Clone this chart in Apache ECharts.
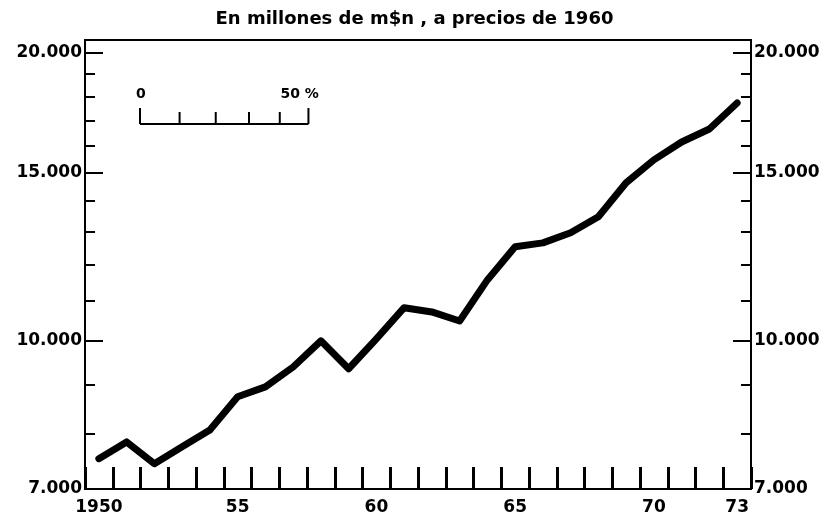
<!DOCTYPE html>
<html>
<head>
<meta charset="utf-8">
<script src="https://cdn.jsdelivr.net/npm/echarts@6/dist/echarts.min.js"></script>
<style>
  html, body { margin: 0; padding: 0; background: #fff; }
  #main { width: 829px; height: 527px; }
</style>
</head>
<body>
<div id="main"></div>
<script>
// datos (millones de m$n, precios de 1960)
var years = ['1950','1951','1952','1953','1954','1955','1956','1957','1958','1959','1960','1961',
             '1962','1963','1964','1965','1966','1967','1968','1969','1970','1971','1972','1973'];
var values = [7530, 7840, 7440, 7750, 8070, 8740, 8950, 9390, 10000, 9350, 10050, 10830,
              10720, 10490, 11580, 12540, 12660, 12970, 13480, 14630, 15460, 16140, 16650, 17730];
var xTickLabels = ['1950','','','','','55','','','','','60','','','','','65','','','','','70','','','73'];
var yMinorTicks = [7000, 8000, 9000, 10000, 11000, 12000, 13000, 14000, 15000, 16000, 17000, 18000, 19000, 20000];
var yMajorTicks = [7000, 10000, 15000, 20000];
var yMin = 7000, yMax = 20630;
var rulerSteps = [0, 10, 20, 30, 40, 50];   // escala de porcentajes del recuadro

var lg = function (v) { return Math.log10(v); };
var fmt = function (v) {
  return String(Math.round(Math.pow(10, v))).replace(/\B(?=(\d{3})+(?!\d))/g, '.');
};
var font = 'DejaVu Sans';

function yAxisDef(pos, major) {
  return {
    type: 'value',
    position: pos,
    min: lg(yMin),
    max: lg(yMax),
    axisLine: { show: !major, lineStyle: { color: '#000', width: 2 } },
    axisTick: {
      show: true, inside: true,
      length: major ? 18 : 10,
      customValues: (major ? yMajorTicks : yMinorTicks).map(lg),
      lineStyle: { color: '#000', width: 2 }
    },
    axisLabel: {
      show: major,
      customValues: yMajorTicks.map(lg),
      formatter: fmt,
      margin: 3,
      color: '#000', fontFamily: font, fontWeight: 'bold', fontSize: 17
    },
    splitLine: { show: false }
  };
}

var myChart = echarts.init(document.getElementById('main'));
myChart.setOption({
  animation: false,
  backgroundColor: '#fff',
  title: {
    text: 'En millones de m$n , a precios de 1960',
    left: 'center', top: 5,
    textStyle: { color: '#000', fontFamily: font, fontWeight: 'bold', fontSize: 18 }
  },
  grid: {
    left: 85, right: 78, top: 40, bottom: 38,
    show: true, borderColor: '#000', borderWidth: 2, backgroundColor: 'transparent'
  },
  xAxis: {
    type: 'category',
    data: years,
    boundaryGap: true,
    axisLine: { show: true, lineStyle: { color: '#000', width: 2 } },
    axisTick: { show: true, inside: true, length: 22, interval: 0, alignWithLabel: false,
                lineStyle: { color: '#000', width: 3 } },
    axisLabel: {
      show: true,
      interval: 0,
      formatter: function (v, i) { return xTickLabels[i]; },
      margin: 10,
      color: '#000', fontFamily: font, fontWeight: 'bold', fontSize: 17
    },
    splitLine: { show: false }
  },
  yAxis: [yAxisDef('left', false), yAxisDef('left', true), yAxisDef('right', false), yAxisDef('right', true)],
  series: [{
    type: 'line',
    data: values.map(lg),
    showSymbol: false,
    lineStyle: { color: '#000', width: 7, join: 'round', cap: 'round' }
  }]
});

// regla de porcentajes: misma escala logaritmica del eje
var rx0 = 140, ry = 124;
var base = myChart.convertToPixel({ yAxisIndex: 0 }, lg(10000));
var rulerX = rulerSteps.map(function (p) {
  return rx0 + (base - myChart.convertToPixel({ yAxisIndex: 0 }, lg(10000 * (1 + p / 100))));
});
var g = [{
  type: 'line', shape: { x1: rulerX[0], y1: ry, x2: rulerX[rulerX.length - 1], y2: ry },
  style: { stroke: '#000', lineWidth: 2 }
}];
rulerX.forEach(function (x, i) {
  var end = i === 0 || i === rulerX.length - 1;
  g.push({ type: 'line', shape: { x1: x, y1: ry, x2: x, y2: ry - (end ? 16 : 12) },
           style: { stroke: '#000', lineWidth: 2 } });
});
var txt = { fill: '#000', fontFamily: font, fontWeight: 'bold', fontSize: 14 };
g.push({ type: 'text', x: rulerX[0] - 4, y: 87, style: Object.assign({ text: '0' }, txt) });
g.push({ type: 'text', x: rulerX[rulerX.length - 1] - 28, y: 87, style: Object.assign({ text: '50 %' }, txt) });
myChart.setOption({ graphic: g });
</script>
</body>
</html>
